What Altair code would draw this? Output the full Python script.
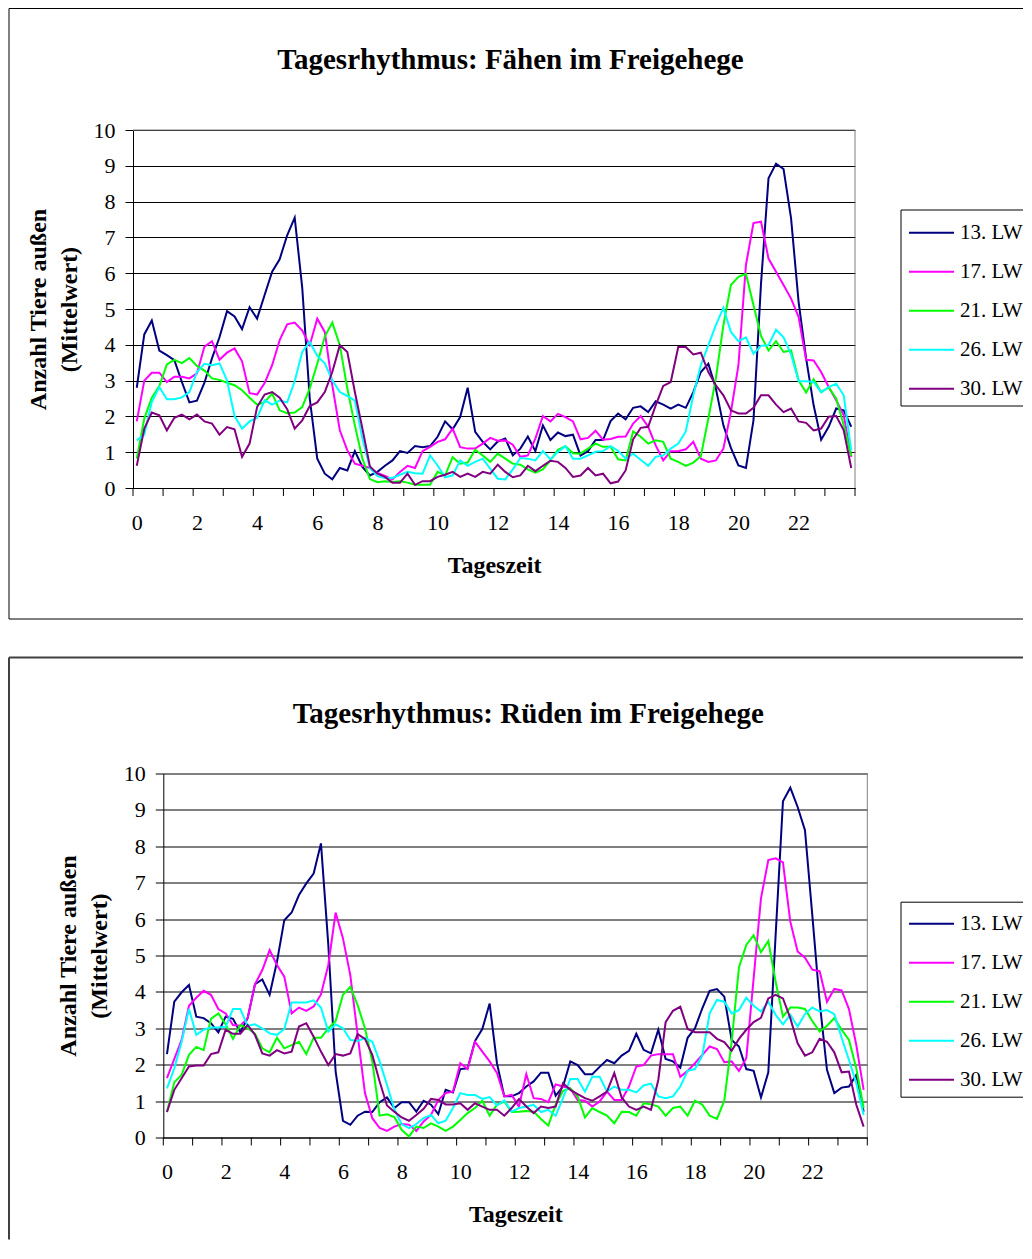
import altair as alt
import pandas as pd

# ---------------- data ----------------
serien = ["13. LW", "17. LW", "21. LW", "26. LW", "30. LW"]
farben = ["#000080", "#FF00FF", "#00FF00", "#00FFFF", "#800080"]
zeit = [i * 0.25 for i in range(96)]          # 15-minute steps, 0:00 .. 23:45
x_labels = [0, 2, 4, 6, 8, 10, 12, 14, 16, 18, 20, 22]
y_labels = [0, 1, 2, 3, 4, 5, 6, 7, 8, 9, 10]
tick_pos = [k - 0.125 for k in range(25)]     # category boundaries, one per hour

# Fähen
f13 = [2.8, 4.29, 4.68, 3.84, 3.71, 3.57, 2.96, 2.39, 2.44, 2.94, 3.62, 4.21, 4.94, 4.79, 4.44, 5.05,
       4.73, 5.39, 6.04, 6.39, 7.06, 7.55, 5.6, 2.5, 0.82, 0.4, 0.24, 0.56, 0.49, 1.03, 0.59, 0.35,
       0.45, 0.62, 0.77, 1.03, 0.98, 1.17, 1.14, 1.17, 1.43, 1.86, 1.64, 1.98, 2.8, 1.57, 1.29, 1.08,
       1.3, 1.38, 0.91, 1.1, 1.44, 1.03, 1.75, 1.34, 1.55, 1.45, 1.49, 0.91, 1.03, 1.34, 1.34, 1.87,
       2.08, 1.92, 2.24, 2.28, 2.12, 2.42, 2.33, 2.22, 2.33, 2.24, 2.68, 3.24, 3.47, 2.78, 1.75, 1.12,
       0.63, 0.56, 1.89, 5.7, 8.65, 9.06, 8.91, 7.53, 5.2, 3.62, 2.31, 1.35, 1.71, 2.22, 2.17, 1.71]
f17 = [1.86, 3.0, 3.22, 3.22, 2.96, 3.11, 3.11, 3.06, 3.2, 3.95, 4.1, 3.58, 3.78, 3.9, 3.54, 2.65,
       2.61, 2.93, 3.43, 4.13, 4.57, 4.62, 4.4, 3.99, 4.73, 4.36, 2.87, 1.61, 1.05, 0.68, 0.62, 0.56,
       0.42, 0.34, 0.24, 0.45, 0.62, 0.56, 1.03, 1.15, 1.29, 1.36, 1.66, 1.14, 1.1, 1.1, 1.24, 1.4,
       1.32, 1.33, 1.21, 0.87, 0.91, 1.38, 2.01, 1.86, 2.07, 1.98, 1.86, 1.36, 1.4, 1.6, 1.35, 1.37,
       1.43, 1.44, 1.8, 2.01, 1.71, 1.19, 0.77, 1.03, 1.03, 1.08, 1.29, 0.82, 0.73, 0.77, 1.1, 2.12,
       3.43, 6.23, 7.4, 7.44, 6.41, 6.04, 5.67, 5.29, 4.78, 3.58, 3.56, 3.24, 2.82, 2.45, 2.03, 0.87]
f21 = [0.82, 1.94, 2.52, 2.85, 3.45, 3.58, 3.49, 3.63, 3.41, 3.28, 3.06, 3.02, 2.94, 2.87, 2.73, 2.52,
       2.33, 2.4, 2.64, 2.17, 2.09, 2.11, 2.26, 2.78, 3.47, 4.23, 4.62, 3.99, 2.78, 1.75, 0.82, 0.25,
       0.16, 0.19, 0.17, 0.19, 0.15, 0.09, 0.09, 0.09, 0.45, 0.35, 0.86, 0.68, 0.71, 1.07, 0.91, 0.73,
       0.96, 0.82, 0.68, 0.65, 0.52, 0.43, 0.52, 0.77, 1.07, 1.17, 0.97, 0.96, 1.1, 1.24, 1.15, 1.15,
       0.8, 0.77, 1.58, 1.43, 1.24, 1.33, 1.29, 0.82, 0.73, 0.62, 0.71, 0.89, 1.94, 3.06, 4.55, 5.67,
       5.9, 5.98, 5.11, 4.25, 3.84, 4.1, 3.8, 3.84, 3.01, 2.67, 3.04, 2.68, 2.81, 2.5, 1.75, 0.9]
f26 = [1.33, 1.49, 2.4, 2.82, 2.48, 2.48, 2.53, 2.68, 3.24, 3.47, 3.43, 3.48, 3.01, 2.01, 1.66, 1.86,
       1.96, 2.45, 2.33, 2.44, 2.39, 2.98, 3.8, 4.08, 3.69, 3.48, 3.01, 2.68, 2.57, 2.44, 1.38, 0.56,
       0.33, 0.28, 0.28, 0.37, 0.45, 0.41, 0.4, 0.91, 0.63, 0.3, 0.35, 0.77, 0.62, 0.73, 0.82, 0.54,
       0.26, 0.24, 0.52, 0.84, 0.82, 0.77, 1.03, 0.8, 1.01, 1.17, 0.82, 0.82, 0.91, 1.01, 1.03, 1.17,
       1.04, 0.82, 0.96, 0.79, 0.62, 0.87, 0.91, 1.1, 1.24, 1.58, 2.59, 3.43, 3.99, 4.55, 5.03, 4.36,
       4.1, 4.21, 3.75, 3.97, 3.99, 4.42, 4.21, 3.73, 2.98, 2.98, 2.96, 2.67, 2.82, 2.91, 2.59, 1.05]
f30 = [0.62, 1.66, 2.11, 2.03, 1.61, 1.96, 2.05, 1.92, 2.05, 1.86, 1.8, 1.49, 1.7, 1.64, 0.87, 1.24,
       2.26, 2.61, 2.68, 2.52, 2.2, 1.66, 1.89, 2.29, 2.39, 2.68, 3.24, 3.99, 3.8, 2.68, 1.66, 0.6,
       0.4, 0.31, 0.15, 0.15, 0.4, 0.09, 0.19, 0.19, 0.31, 0.37, 0.45, 0.31, 0.4, 0.31, 0.45, 0.4,
       0.65, 0.45, 0.3, 0.35, 0.62, 0.47, 0.62, 0.76, 0.73, 0.56, 0.31, 0.35, 0.56, 0.35, 0.4, 0.13,
       0.18, 0.49, 1.36, 1.68, 1.71, 2.31, 2.85, 2.96, 3.94, 3.94, 3.73, 3.78, 3.24, 2.87, 2.59, 2.17,
       2.08, 2.08, 2.24, 2.59, 2.59, 2.33, 2.12, 2.22, 1.86, 1.82, 1.61, 1.66, 1.99, 2.01, 1.61, 0.56]

# Rüden
r13 = [2.29, 3.73, 3.99, 4.19, 3.32, 3.28, 3.14, 2.89, 3.32, 3.26, 2.89, 3.28, 4.21, 4.34, 3.92, 4.83,
       5.97, 6.18, 6.66, 6.98, 7.25, 8.08, 5.3, 1.81, 0.46, 0.35, 0.6, 0.71, 0.7, 0.97, 1.1, 0.81,
       0.97, 0.97, 0.71, 1.01, 0.9, 0.64, 1.31, 1.24, 1.88, 1.9, 2.65, 2.98, 3.68, 2.04, 1.13, 1.13,
       1.22, 1.4, 1.54, 1.78, 1.78, 1.15, 1.4, 2.09, 1.99, 1.74, 1.74, 1.94, 2.13, 2.04, 2.25, 2.38,
       2.85, 2.41, 2.31, 2.96, 2.16, 2.09, 1.92, 2.74, 3.0, 3.55, 4.03, 4.08, 3.87, 2.68, 2.5, 1.88,
       1.83, 1.1, 1.79, 5.56, 9.24, 9.61, 9.08, 8.44, 6.11, 3.73, 1.86, 1.22, 1.37, 1.4, 1.72, 0.71]
r17 = [1.63, 2.16, 2.68, 3.62, 3.84, 4.03, 3.92, 3.53, 3.41, 3.09, 3.07, 3.28, 4.21, 4.6, 5.15, 4.74,
       4.42, 3.41, 3.57, 3.48, 3.6, 3.93, 4.74, 6.18, 5.47, 4.46, 2.82, 1.22, 0.53, 0.26, 0.18, 0.3,
       0.37, 0.35, 0.18, 0.44, 0.62, 1.03, 1.22, 1.26, 2.04, 1.88, 2.63, 2.36, 2.09, 1.77, 1.13, 1.17,
       0.85, 1.74, 1.08, 1.06, 0.97, 1.46, 1.4, 1.35, 1.03, 1.01, 0.85, 0.99, 1.26, 1.03, 1.03, 1.4,
       1.95, 1.99, 2.25, 2.29, 2.29, 2.29, 1.67, 1.83, 2.04, 2.27, 2.5, 2.43, 2.07, 2.09, 1.83, 2.18,
       4.37, 6.57, 7.62, 7.67, 7.56, 5.93, 5.11, 4.94, 4.61, 4.57, 3.73, 4.08, 4.04, 3.53, 2.54, 1.31]
r21 = [0.7, 1.52, 1.72, 2.27, 2.49, 2.4, 3.26, 3.41, 3.11, 2.71, 3.09, 3.0, 2.85, 2.45, 2.34, 2.74,
       2.45, 2.54, 2.63, 2.29, 2.74, 2.74, 3.0, 3.2, 3.92, 4.14, 3.64, 3.0, 2.09, 0.6, 0.64, 0.56,
       0.21, 0.03, 0.3, 0.26, 0.39, 0.3, 0.18, 0.3, 0.48, 0.67, 0.81, 1.01, 0.6, 0.9, 0.99, 0.7,
       0.71, 0.73, 0.71, 0.51, 0.33, 0.9, 1.28, 1.35, 1.13, 0.55, 0.81, 0.7, 0.6, 0.39, 0.71, 0.7,
       0.6, 0.94, 0.91, 0.85, 0.6, 0.81, 0.85, 0.6, 1.01, 0.9, 0.6, 0.51, 1.01, 2.63, 4.67, 5.29,
       5.56, 5.09, 5.4, 4.28, 3.32, 3.57, 3.57, 3.53, 3.2, 2.91, 3.07, 3.28, 2.96, 2.68, 1.9, 0.81]
r26 = [1.35, 1.9, 2.63, 3.53, 2.82, 2.96, 3.02, 3.02, 3.04, 3.53, 3.53, 3.07, 3.11, 3.0, 2.86, 2.82,
       2.98, 3.71, 3.71, 3.71, 3.77, 3.57, 2.91, 3.11, 3.0, 2.68, 2.65, 2.74, 2.63, 2.09, 1.45, 0.78,
       0.37, 0.26, 0.37, 0.53, 0.62, 0.39, 0.46, 0.81, 1.22, 1.17, 1.17, 1.06, 1.11, 0.88, 1.02, 0.71,
       0.81, 0.85, 0.9, 0.7, 0.76, 0.6, 1.08, 1.61, 1.61, 1.26, 1.67, 1.67, 1.26, 1.4, 1.31, 1.31,
       1.24, 1.43, 1.48, 1.13, 1.08, 1.13, 1.4, 1.83, 1.88, 2.25, 3.41, 3.78, 3.73, 3.41, 3.5, 3.84,
       3.62, 3.46, 3.73, 3.37, 3.11, 3.37, 3.05, 3.39, 3.57, 3.46, 3.5, 3.39, 2.74, 2.13, 1.49, 0.62]
r30 = [0.7, 1.31, 1.63, 1.95, 1.98, 1.98, 2.29, 2.34, 2.96, 2.85, 2.85, 3.09, 2.82, 2.31, 2.25, 2.4,
       2.31, 2.36, 3.05, 3.14, 2.77, 2.36, 1.99, 2.29, 2.25, 2.31, 2.84, 2.71, 2.27, 1.54, 0.88, 0.71,
       0.55, 0.46, 0.62, 0.79, 1.06, 1.03, 0.91, 0.91, 0.94, 0.76, 0.94, 0.85, 0.76, 0.76, 0.6, 0.81,
       1.06, 0.85, 0.67, 0.85, 0.81, 0.85, 1.49, 1.31, 1.19, 1.08, 1.01, 1.13, 1.26, 1.77, 1.1, 0.85,
       0.76, 0.85, 0.76, 1.58, 3.17, 3.48, 3.59, 2.98, 2.89, 2.89, 2.89, 2.71, 2.62, 2.38, 2.71, 2.96,
       3.17, 3.29, 3.82, 3.92, 3.82, 3.28, 2.59, 2.25, 2.34, 2.71, 2.63, 2.34, 1.79, 1.81, 0.9, 0.3]

FONT = "Liberation Serif"


def long_table(series_lists):
    rows = []
    for name, vals in zip(serien, series_lists):
        for t, v in zip(zeit, vals):
            rows.append({"Zeit": t, "Wert": v, "Serie": name})
    return pd.DataFrame(rows)


def hrule(x1, x2, y, color, width):
    return alt.Chart(pd.DataFrame({"k": [0]})).mark_rule(color=color, strokeWidth=width).encode(
        x=alt.value(x1), x2=alt.value(x2), y=alt.value(y))


def vrule(x, y1, y2, color, width):
    return alt.Chart(pd.DataFrame({"k": [0]})).mark_rule(color=color, strokeWidth=width).encode(
        x=alt.value(x), y=alt.value(y1), y2=alt.value(y2))


def panel(series_lists, title_text, x0, W, H, title_xy, box, box_color, box_width,
          leg_xy, legbox):
    """x0: left edge of the data area inside the view (the view itself starts at 0)."""
    df = long_table(series_lists)
    xaxis = alt.Axis(values=x_labels, grid=False, ticks=False, domainColor="black",
                     labelFont=FONT, labelFontSize=22, labelColor="black", labelPadding=24,
                     labelAngle=0, title="Tageszeit", titleFont=FONT, titleFontSize=24,
                     titleFontWeight="bold", titleColor="black", titlePadding=20)
    yaxis = alt.Axis(values=y_labels, grid=True, gridColor="black", gridWidth=1, gridOpacity=1,
                     domainColor="black", tickColor="black", tickSize=8, offset=-x0,
                     labelFont=FONT, labelFontSize=22, labelColor="black", labelPadding=10,
                     title=["Anzahl Tiere außen", "(Mittelwert)"], titleFont=FONT,
                     titleFontSize=24, titleFontWeight="bold", titleColor="black",
                     titleLineHeight=31, titlePadding=12)
    legend = alt.Legend(title=None, orient="none", legendX=leg_xy[0], legendY=leg_xy[1],
                        symbolType="stroke", symbolSize=45 * 45, symbolStrokeWidth=2,
                        clipHeight=22, rowPadding=17, padding=0, labelOffset=5,
                        labelFont=FONT, labelFontSize=21, labelColor="black")
    xscale = alt.Scale(domain=[-0.125, 23.875], nice=False, zero=False, range=[x0, x0 + W])
    lines = alt.Chart(df).mark_line(strokeWidth=2).encode(
        x=alt.X("Zeit:Q", scale=xscale, axis=xaxis),
        y=alt.Y("Wert:Q", scale=alt.Scale(domain=[0, 10], nice=False), axis=yaxis),
        color=alt.Color("Serie:N", scale=alt.Scale(domain=serien, range=farben),
                        sort=serien, legend=legend),
    )
    ticks = alt.Chart(pd.DataFrame({"Zeit": tick_pos})).mark_rule(
        color="black", strokeWidth=1).encode(
        x=alt.X("Zeit:Q", scale=xscale, axis=xaxis),
        y=alt.value(H), y2=alt.value(H + 8))
    title = alt.Chart(pd.DataFrame({"k": [0]})).mark_text(
        text=title_text, font=FONT, fontSize=29, fontWeight="bold", color="black",
        align="center", baseline="alphabetic").encode(
        x=alt.value(title_xy[0]), y=alt.value(title_xy[1]))
    bl, bt, bb, br = box
    layers = [hrule(bl, br, bt, box_color, box_width),
              vrule(bl, bt, bb, box_color, box_width)]
    if box_color == "black":
        layers.append(hrule(bl, br, bb, box_color, box_width))
    # plot-area frame (top and right, grey)
    layers += [hrule(x0, x0 + W, 0, "#808080", 1), vrule(x0 + W, 0, H, "#808080", 1)]
    ll, lt, lb, lr = legbox
    layers += [hrule(ll, lr, lt, "black", 1), hrule(ll, lr, lb, "black", 1),
               vrule(ll, lt, lb, "black", 1)]
    layers += [title, ticks, lines]
    return alt.layer(*layers).properties(width=x0 + W, height=H)


# top: data area starts at view x=0; bottom: data area starts 30 px further right
top = panel([f13, f17, f21, f26, f30], "Tagesrhythmus: Fähen im Freigehege",
            0, 722, 358, (377.5, -61), (-124, -121.5, 489, 890), "black", 1,
            (775, 91.7), (768, 80, 276, 890))
bottom = panel([r13, r17, r21, r26, r30], "Tagesrhythmus: Rüden im Freigehege",
               30.3, 704, 364, (395.3, -50.3), (-124, -116, 466, 890), "#404040", 2,
               (775, 139.3), (768, 128.7, 323.7, 890))

chart = alt.vconcat(top, bottom, spacing=36.5, padding=0).resolve_scale(
    color="independent", x="independent", y="independent").resolve_legend(
    color="independent").properties(background="white").configure(padding=0).configure_view(
    stroke=None)

chart.save("out.html", embed_options={"renderer": "svg", "actions": False})
